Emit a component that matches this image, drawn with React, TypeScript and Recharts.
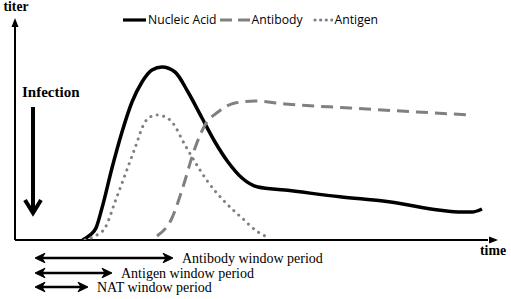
import React from 'react';
import { LineChart, Line, XAxis, YAxis, ReferenceDot, ReferenceLine, Legend } from 'recharts';

// ---- data (time in arbitrary units, titer in arbitrary units) ----
const nucleicTime = [13.5, 15, 16.2, 17.4, 19.4, 21.4, 23.4, 25.4, 27.4, 29.4, 32, 34.6, 37.4, 40, 42.6, 45.4, 48.6, 54, 65, 73.6, 89.6, 91.4, 93.4];
const nucleicTiter = [0, 2.5, 6, 16, 36, 54, 69, 79, 85, 86.5, 84, 74, 61, 49, 39, 31, 26.5, 25, 21.6, 19.5, 14, 14, 15.5];

const antibodyTime = [28.4, 31.4, 33.4, 36, 38, 40.6, 44, 48, 54, 67, 80.4, 91.4];
const antibodyTiter = [2, 11, 25, 46, 57.5, 64, 68.5, 69.5, 68, 66, 64, 62.5];

const antigenTime = [14, 16, 18, 20, 22, 24, 26, 27, 28.4, 29.6, 31.4, 34, 36, 38.6, 42, 45.4, 48.6, 51];
const antigenTiter = [0, 2, 6, 19, 32.5, 46, 59, 61.5, 62.5, 62, 59, 47.5, 39, 29, 19, 11, 4, 1];

const seriesNames = ['Nucleic Acid', 'Antibody', 'Antigen'];

const windowLabels = ['Antibody window period', 'Antigen window period', 'NAT window period'];
const windowStart = [4, 4, 4];
const windowEnd = [31.6, 19.4, 14.6];

const infectionTime = 3.6;
const xMax = 96.6;
const yMax = 111;

const toPoints = (ts: number[], vs: number[]) => ts.map((t, i) => ({ t, v: vs[i] }));
const nucleicData = toPoints(nucleicTime, nucleicTiter);
const antibodyData = toPoints(antibodyTime, antibodyTiter);
const antigenData = toPoints(antigenTime, antigenTiter);

const GRAY = '#808080';
const SERIF = '"Liberation Serif", "Times New Roman", serif';

const legendStyles = [
  { color: '#000', dash: undefined, cap: 'butt', w: 23, gapAfter: 3 },
  { color: GRAY, dash: '12 6', cap: 'butt', w: 30, gapAfter: 10 },
  { color: GRAY, dash: '0.1 5.5', cap: 'round', w: 20, gapAfter: 0 },
];

const LegendContent = () => (
  <div style={{ display: 'flex', alignItems: 'center', fontFamily: '"Open Sans", sans-serif', fontSize: 12.2, color: '#000', whiteSpace: 'nowrap', lineHeight: '14px' }}>
    {seriesNames.map((name, i) => {
      const s = legendStyles[i];
      return (
        <span key={name} style={{ display: 'flex', alignItems: 'center', marginRight: s.gapAfter }}>
          <svg width={s.w} height={6} style={{ display: 'block' }}>
            <line x1={s.cap === 'round' ? 2 : 0} y1={3} x2={s.w} y2={3} stroke={s.color} strokeWidth={3.2}
              strokeDasharray={s.dash} strokeLinecap={s.cap as any} />
          </svg>
          <span style={{ marginLeft: 2 }}>{name}</span>
        </span>
      );
    })}
  </div>
);

const rowY = [-9, -16.5, -23.5];

const DoubleArrow = (label: string) => (p: any) => {
  const { x1, y1, x2 } = p;
  const y = y1;
  return (
    <g>
      <line x1={x1 + 4} y1={y} x2={x2 - 4} y2={y} stroke="#000" strokeWidth={2.4} />
      <polygon points={`${x1},${y} ${x1 + 10},${y - 4.8} ${x1 + 7},${y} ${x1 + 10},${y + 4.8}`} fill="#000" stroke="#000" strokeWidth={1} strokeLinejoin="miter" />
      <polygon points={`${x2},${y} ${x2 - 10},${y - 4.8} ${x2 - 7},${y} ${x2 - 10},${y + 4.8}`} fill="#000" stroke="#000" strokeWidth={1} strokeLinejoin="miter" />
      <text x={x2 + 9} y={y + 5} fontFamily={SERIF} fontSize={14} fill="#000">{label}</text>
    </g>
  );
};

const InfectionArrow = (p: any) => {
  const { x1, y1, y2 } = p;
  return (
    <g>
      <text x={x1 - 11} y={y1 - 10} fontFamily={SERIF} fontWeight="bold" fontSize={15} fill="#000">Infection</text>
      <line x1={x1} y1={y1} x2={x1} y2={y2 - 3} stroke="#000" strokeWidth={4} />
      <polyline points={`${x1 - 8},${y2 - 15} ${x1},${y2 - 2} ${x1 + 8},${y2 - 15}`} fill="none" stroke="#000" strokeWidth={4} strokeLinejoin="miter" />
    </g>
  );
};

const AxisLine = (p: any) => (
  <line x1={p.x1} y1={p.y1} x2={p.x2} y2={p.y2} stroke="#000" strokeWidth={2} />
);

const XArrow = (p: any) => {
  const { cx, cy } = p;
  return (
    <g>
      <polygon points={`${cx},${cy} ${cx - 9},${cy - 3.5} ${cx - 9},${cy + 3.5}`} fill="#000" />
      <text x={cx - 5} y={cy + 15} textAnchor="middle" fontFamily={SERIF} fontWeight="bold" fontSize={13.8} fill="#000">time</text>
    </g>
  );
};

const YArrow = (p: any) => {
  const { cx, cy } = p;
  return (
    <g>
      <polygon points={`${cx},${cy} ${cx - 3.5},${cy + 9} ${cx + 3.5},${cy + 9}`} fill="#000" />
      <text x={cx + 1} y={cy - 7} textAnchor="middle" fontFamily={SERIF} fontWeight="bold" fontSize={13.6} fill="#000">titer</text>
    </g>
  );
};

export default function App() {
  return (
    <div style={{ position: 'absolute', left: 0, top: 0, background: '#fff' }}>
      <LineChart width={511} height={299} margin={{ top: 18, right: 13, bottom: 59, left: 15 }}>
        <XAxis type="number" dataKey="t" domain={[0, xMax]} allowDataOverflow hide />
        <YAxis type="number" dataKey="v" domain={[0, yMax]} allowDataOverflow hide />
        <Legend layout="vertical" align="center" verticalAlign="middle" content={<LegendContent />}
          wrapperStyle={{ top: 13, left: 123, width: 'auto' }} />
        <ReferenceLine ifOverflow="visible" segment={[{ x: 0, y: 0 }, { x: xMax - 2, y: 0 }]} shape={AxisLine} />
        <ReferenceLine ifOverflow="visible" segment={[{ x: 0, y: 0 }, { x: 0, y: yMax - 4 }]} shape={AxisLine} />
        <Line data={nucleicData} dataKey="v" name={seriesNames[0]} type="monotone" stroke="#000" strokeWidth={3.5}
          dot={false} activeDot={false} isAnimationActive={false} />
        <Line data={antibodyData} dataKey="v" name={seriesNames[1]} type="monotone" stroke={GRAY} strokeWidth={3}
          strokeDasharray="12 7" dot={false} activeDot={false} isAnimationActive={false} />
        <Line data={antigenData} dataKey="v" name={seriesNames[2]} type="monotone" stroke={GRAY} strokeWidth={3}
          strokeDasharray="0.1 6.5" strokeLinecap="round" dot={false} activeDot={false} isAnimationActive={false} />
        <ReferenceDot x={xMax} y={0} r={0} ifOverflow="visible" shape={XArrow} />
        <ReferenceDot x={0} y={yMax} r={0} ifOverflow="visible" shape={YArrow} />
        <ReferenceLine ifOverflow="visible" segment={[{ x: infectionTime, y: 66.5 }, { x: infectionTime, y: 12.5 }]}
          shape={InfectionArrow} />
        {windowLabels.map((label, i) => (
          <ReferenceLine key={label} ifOverflow="visible"
            segment={[{ x: windowStart[i], y: rowY[i] }, { x: windowEnd[i], y: rowY[i] }]}
            shape={DoubleArrow(label)} />
        ))}
      </LineChart>
    </div>
  );
}
